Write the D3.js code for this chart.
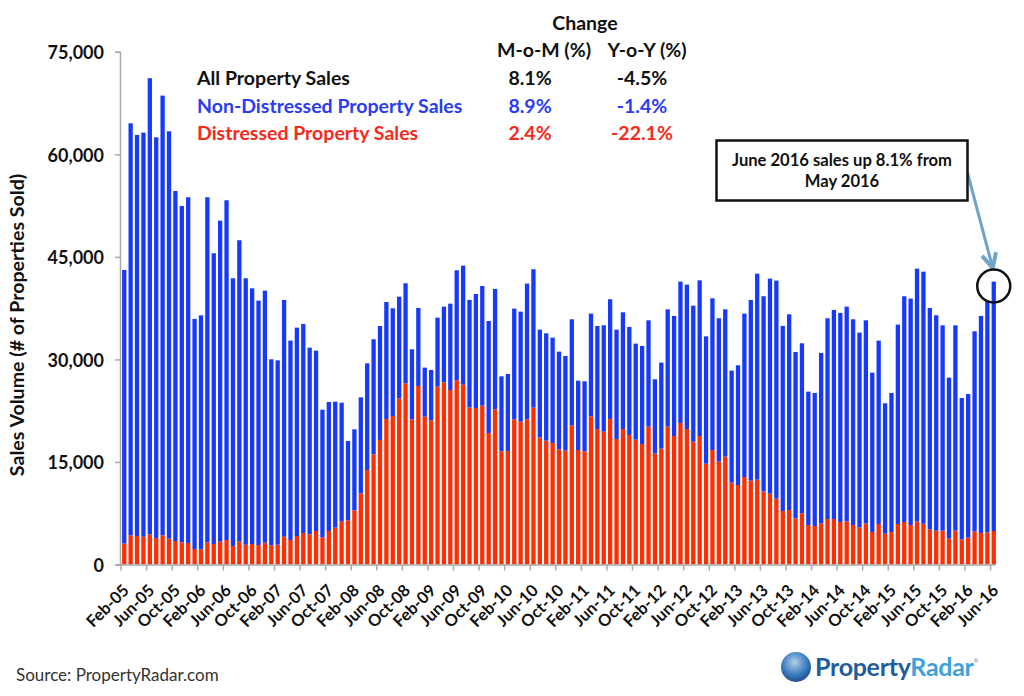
<!DOCTYPE html>
<html lang="en">
<head>
<meta charset="utf-8">
<title>Sales Volume</title>
<script src="https://d3js.org/d3.v7.min.js"></script>
<style>
  html, body { margin: 0; background: #fff; }
  svg { display: block; }
  text { font-family: Lato, "Open Sans", sans-serif; }
  .axis text { font-weight: 700; fill: #111; font-family: Lato, sans-serif; }
  .axis.yaxis text { font-size: 18px; }
  .axis.xaxis text { font-size: 16.5px; }
  .axis line, .axis path { stroke: #aaa; stroke-width: 1.5px; }
  .head { font-size: 19.5px; font-weight: 700; }
</style>
</head>
<body>
<div id="chart"></div>
<script>
// monthly sales, Feb-05 to Jun-16
var totalSales = [
  43090,64540,62830,63180,71130,62490,68590,63370,54640,52450,53720,35920,36450,53720,45530,50300,53280,41870,47430,41870,40400,38600,40060,
  30020,29870,38700,32750,34650,35190,31720,31280,22650,23770,23820,23670,18070,19780,24460,29430,32950,34890,38400,37480,39180,41140,
  31480,37530,28800,28460,36110,37720,38160,43040,43720,38700,39570,40750,35620,40310,27530,27870,37430,36990,41090,43190,34360,33820,33190,
  31140,30500,35870,26890,26800,36700,34890,34990,38800,34360,36890,34750,32310,31970,35720,27090,29530,37330,36360,41380,40940,37870,41570,
  33380,38940,36020,37330,28360,29140,36700,38700,42550,39240,41820,41530,34900,36600,31090,32360,25290,25090,30950,36020,37240,36800,37720,
  35870,33920,35720,28070,32750,23580,25090,35090,39240,38900,43280,42840,37530,36460,34990,27340,34990,24360,24940,34110,36360,38460,41380
];
var distressedSales = [
  3050,4270,4170,4070,4410,3880,4270,3780,3440,3240,3150,2270,2220,3240,3000,3340,3590,2710,3340,2900,3000,2850,3190,
  2800,2900,4070,3590,4170,4610,4410,4900,3970,4900,5390,6320,6460,7930,10410,13830,16120,18220,21290,21730,24310,26510,
  21240,26120,21630,21090,26020,26650,25530,26950,26310,22990,22900,23240,19240,22700,16560,16610,21240,20900,21240,22950,18600,18120,17780,
  16850,16650,20360,16750,16560,21680,19820,19430,21290,18360,19820,18950,18260,17630,20170,16220,16950,20170,18800,20700,19820,17970,18800,
  14750,16750,15050,15780,11970,11630,12800,12270,12410,10710,10360,9630,7830,7970,6750,7490,5780,5630,6020,6660,6660,6220,6320,
  5780,5440,6020,4760,5930,4510,4760,5930,6220,5780,6320,5970,5150,4950,4950,3780,4950,3680,3930,4850,4610,4710,4900
];
var months = d3.utcMonth.range(new Date(Date.UTC(2005, 1, 1)), new Date(Date.UTC(2016, 6, 1))).map(d3.utcFormat("%b-%y"));
var yTicks = [0, 15000, 30000, 45000, 60000, 75000];

var tableRows = ["All Property Sales", "Non-Distressed Property Sales", "Distressed Property Sales"];
var tableColors = ["#111", "#2a3cf5", "#f52a1c"];
var momChange = ["8.1%", "8.9%", "2.4%"];
var yoyChange = ["-4.5%", "-1.4%", "-22.1%"];

var width = 1024, height = 696;
var svg = d3.select("#chart").append("svg").attr("width", width).attr("height", height);
var defs = svg.append("defs");

var x = d3.scaleBand().domain(months).range([120, 998]).padding(0.33);
var y = d3.scaleLinear().domain([0, 75000]).range([564.5, 51.8]);
var step = x.step();

// the source picture is a little soft
defs.append("filter").attr("id", "soft").append("feGaussianBlur").attr("stdDeviation", 0.35);

// bars
var rows = months.map(function(m, i) {
  return { month: m, distressed: distressedSales[i], nonDistressed: totalSales[i] - distressedSales[i] };
});
var series = d3.stack().keys(["distressed", "nonDistressed"])(rows);
var colors = { distressed: "#ff2d00", nonDistressed: "#1537ff" };

svg.append("g").attr("filter", "url(#soft)")
  .selectAll("g.series")
  .data(series)
  .enter().append("g")
  .attr("class", "series")
  .attr("fill", function(d) { return colors[d.key]; })
  .selectAll("rect")
  .data(function(d) { return d; })
  .enter().append("rect")
  .attr("x", function(d) { return x(d.data.month); })
  .attr("width", x.bandwidth())
  .attr("y", function(d) { return y(d[1]); })
  .attr("height", function(d) { return y(d[0]) - y(d[1]); });

// axes
var yAxis = d3.axisLeft(y).tickValues(yTicks).tickSize(5).tickPadding(11).tickFormat(d3.format(","));
var yG = svg.append("g").attr("class", "axis yaxis").attr("transform", "translate(120,0)").call(yAxis);
yG.selectAll("text").attr("dy", "0.38em");

var xAxis = d3.axisBottom(x)
  .tickValues(months.filter(function(m, i) { return i % 4 == 0; }))
  .tickSize(6)
  .tickSizeOuter(0);
var xG = svg.append("g").attr("class", "axis xaxis")
  .attr("transform", "translate(" + (-step / 2) + ",564.5)")
  .call(xAxis);
xG.selectAll("text")
  .attr("text-anchor", "end")
  .attr("dy", 0)
  .attr("y", 0)
  .attr("transform", "translate(9,27) rotate(-45)");

svg.append("text")
  .attr("transform", "translate(24,325) rotate(-90)")
  .attr("text-anchor", "middle")
  .style("font-size", "19.6px").style("font-weight", 700).attr("fill", "#111")
  .text("Sales Volume (# of Properties Sold)");

// change table
svg.append("text").attr("class", "head").attr("x", 585).attr("y", 30).attr("text-anchor", "middle").attr("fill", "#111").text("Change");
svg.append("text").attr("class", "head").attr("x", 544).attr("y", 57).attr("text-anchor", "middle").attr("fill", "#111").text("M-o-M (%)");
svg.append("text").attr("class", "head").attr("x", 647).attr("y", 57).attr("text-anchor", "middle").attr("fill", "#111").text("Y-o-Y (%)");

var rowY = d3.scalePoint().domain(tableRows).range([85, 140]);
tableRows.forEach(function(r, i) {
  var g = svg.append("g").attr("class", "head").attr("fill", tableColors[i]).attr("transform", "translate(0," + rowY(r) + ")");
  g.append("text").attr("x", 197).text(r);
  g.append("text").attr("x", 530).attr("text-anchor", "middle").text(momChange[i]);
  g.append("text").attr("x", 642).attr("text-anchor", "middle").text(yoyChange[i]);
});

// callout
var lastX = x(months[months.length - 1]) + x.bandwidth() / 2;
defs.append("marker")
  .attr("id", "arrow").attr("viewBox", "0 0 10 10").attr("refX", 9).attr("refY", 5)
  .attr("markerWidth", 6).attr("markerHeight", 7).attr("orient", "auto")
  .append("path").attr("d", "M1,1L9,5L1,9").attr("fill", "none").attr("stroke", "#6ea3cb").attr("stroke-width", 2.2);
svg.append("line")
  .attr("x1", 967).attr("y1", 171).attr("x2", lastX - 1).attr("y2", 268)
  .attr("stroke", "#6ea3cb").attr("stroke-width", 3).attr("marker-end", "url(#arrow)");
svg.append("rect")
  .attr("x", 716.5).attr("y", 140.5).attr("width", 251).attr("height", 60)
  .attr("fill", "#fff").attr("stroke", "#111").attr("stroke-width", 2.5);
svg.append("text").attr("x", 842).attr("y", 165.5).attr("text-anchor", "middle")
  .style("font-size", "16.6px").style("font-weight", 700).attr("fill", "#111").text("June 2016 sales up 8.1% from");
svg.append("text").attr("x", 842).attr("y", 186.5).attr("text-anchor", "middle")
  .style("font-size", "16.6px").style("font-weight", 700).attr("fill", "#111").text("May 2016");
svg.append("circle")
  .attr("cx", lastX).attr("cy", 286).attr("r", 16.5)
  .attr("fill", "none").attr("stroke", "#111").attr("stroke-width", 2.5);

// footer
svg.append("text").attr("x", 16).attr("y", 681)
  .style("font-size", "17px").attr("fill", "#333").text("Source: PropertyRadar.com");

// logo
var grad = defs.append("radialGradient").attr("id", "globe").attr("cx", "45%").attr("cy", "35%").attr("r", "70%");
grad.append("stop").attr("offset", "0%").attr("stop-color", "#b5cfe8");
grad.append("stop").attr("offset", "55%").attr("stop-color", "#3f82c4");
grad.append("stop").attr("offset", "100%").attr("stop-color", "#17467f");
svg.append("circle").attr("cx", 796).attr("cy", 667).attr("r", 15).attr("fill", "url(#globe)");
var logo = svg.append("text").attr("x", 815).attr("y", 676)
  .style("font-size", "25px").style("font-weight", 700).style("letter-spacing", "-0.3px");
logo.append("tspan").attr("fill", "#1f5c9b").text("Property");
logo.append("tspan").attr("fill", "#3da1dc").text("Radar");
logo.append("tspan").attr("fill", "#9ab").attr("dy", -13).style("font-size", "6px").text("®");
</script>
</body>
</html>
